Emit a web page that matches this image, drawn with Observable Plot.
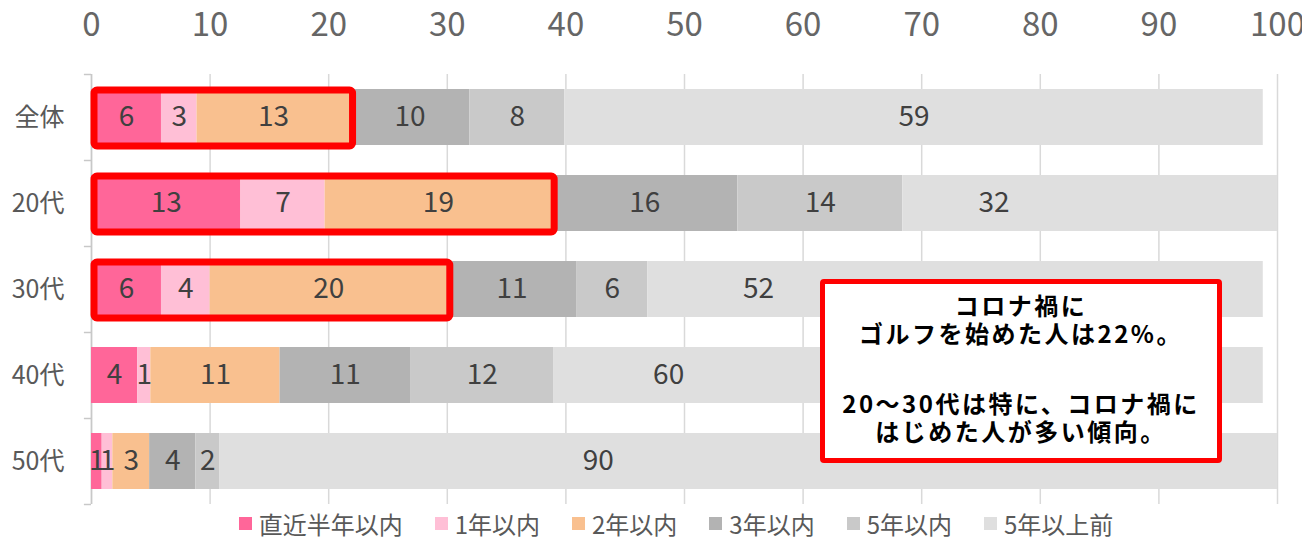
<!DOCTYPE html>
<html>
<head>
<meta charset="utf-8">
<script src="https://cdn.jsdelivr.net/npm/d3@7"></script>
<script src="https://cdn.jsdelivr.net/npm/@observablehq/plot@0.6"></script>
<style>
  html, body { margin: 0; padding: 0; background: #fff; }
  #wrap { position: relative; width: 1302px; height: 537px; overflow: hidden;
          font-family: "Liberation Sans Narrow", "Noto Sans CJK JP", sans-serif; }
  #legend { position: absolute; left: 91px; top: 510px; width: 1170px; height: 27px;
            display: flex; justify-content: center; align-items: center; gap: 32px;
            font-family: "Liberation Sans Narrow", "Noto Sans CJK JP", sans-serif;
            font-size: 24px; color: #595959; line-height: 27px; }
  #legend .item { display: flex; align-items: center; white-space: nowrap; }
  #legend .sw { width: 13px; height: 13px; margin-right: 7px; }
  #note { position: absolute; left: 820px; top: 279px; width: 402px; height: 184px;
          box-sizing: border-box; border: 5px solid #ff0000; border-radius: 4px; background: #fff;
          font-family: "Noto Sans CJK JP", sans-serif; font-weight: 700; font-size: 24px;
          letter-spacing: 2.5px;
          color: #000; text-align: center; line-height: 28px; padding-top: 7px; }
  #note p { margin: 0; }
  #note p + p { margin-top: 42px; }
</style>
</head>
<body>
<div id="wrap"></div>
<script>
// ---- data ----
const categories = ["全体", "20代", "30代", "40代", "50代"];
const seriesNames = ["直近半年以内", "1年以内", "2年以内", "3年以内", "5年以内", "5年以上前"];
const seriesColors = ["#ff6699", "#ffbfd6", "#f9c08f", "#b3b3b3", "#c9c9c9", "#dfdfdf"];
// values per series, in category order (全体, 20代, 30代, 40代, 50代)
const recentHalfYear = [5.9, 12.6, 5.9, 3.9, 0.9];
const withinOneYear  = [3.0, 7.1, 4.1, 1.1, 0.9];
const withinTwoYears = [12.9, 19.1, 20.0, 10.9, 3.1];
const withinThreeYears = [10.1, 15.7, 10.9, 11.0, 3.9];
const withinFiveYears  = [8.0, 13.9, 6.0, 12.1, 2.0];
const overFiveYears    = [58.9, 31.6, 51.9, 59.8, 89.5];
const highlighted = ["全体", "20代", "30代"];
const xTicks = [0, 10, 20, 30, 40, 50, 60, 70, 80, 90, 100];
const noteLines1 = ["コロナ禍に", "ゴルフを始めた人は22%。"];
const noteLines2 = ["20～30代は特に、コロナ禍に", "はじめた人が多い傾向。"];

// style: the last series' labels were moved left (px) so the note box does not hide them
const lastLabelShiftPx = [0, -96, -197, -240, -152];

const seriesValues = [recentHalfYear, withinOneYear, withinTwoYears, withinThreeYears, withinFiveYears, overFiveYears];

const rows = [];
const lastLabels = [];
categories.forEach((cat, i) => {
  let acc = 0;
  seriesNames.forEach((s, j) => {
    const v = seriesValues[j][i];
    rows.push({cat, series: s, value: v, label: String(Math.round(v))});
    if (j === seriesNames.length - 1) {
      lastLabels.push({cat, mid: acc + v / 2, shift: lastLabelShiftPx[i], label: String(Math.round(v))});
    }
    acc += v;
  });
});
const innerRows = rows.filter(r => r.series !== seriesNames[seriesNames.length - 1]);
const highlightRows = highlighted.map(cat => {
  const i = categories.indexOf(cat);
  return {cat, total: recentHalfYear[i] + withinOneYear[i] + withinTwoYears[i]};
});

// ---- layout ----
const W = 1302, H = 510, mTop = 74, mBottom = 6, mLeft = 91, mRight = 25;
const step = (H - mTop - mBottom) / categories.length;
const pxPerUnit = (W - mLeft - mRight) / 100;
const font = "'Liberation Sans Narrow', 'Noto Sans CJK JP', sans-serif";

const chart = Plot.plot({
  width: W, height: H,
  marginTop: mTop, marginBottom: mBottom, marginLeft: mLeft, marginRight: mRight,
  style: {fontFamily: font, background: "#fff", overflow: "visible"},
  x: {domain: [0, 100], axis: null},
  y: {domain: categories, paddingInner: 0.35, paddingOuter: 0.175, axis: null, label: null},
  color: {domain: seriesNames, range: seriesColors},
  marks: [
    Plot.ruleX(xTicks, {stroke: "#d9d9d9", strokeWidth: 1.5}),
    Plot.ruleX([0], {stroke: "#c8c8c8", strokeWidth: 1.5}),
    Plot.ruleY(categories, {y: d => d, x1: -0.6, x2: 0, dy: -step / 2, stroke: "#c8c8c8", strokeWidth: 1.5}),
    Plot.ruleY(categories.slice(-1), {y: d => d, x1: -0.6, x2: 0, dy: step / 2, stroke: "#c8c8c8", strokeWidth: 1.5}),
    Plot.barX(rows, {x: "value", y: "cat", fill: "series", clip: true}),
    Plot.text(innerRows, Plot.stackX({x: "value", y: "cat", z: "series", text: "label",
      fill: "#404040", fontSize: 28, fontFamily: font})),
    Plot.text(lastLabels, {x: d => d.mid + d.shift / pxPerUnit, y: "cat", text: "label",
      fill: "#404040", fontSize: 28, fontFamily: font}),
    Plot.barX(highlightRows, {x: "total", y: "cat", fill: "none", stroke: "#ff0000", strokeWidth: 7,
      rx: 3, insetLeft: 3, insetRight: -3, insetTop: 1, insetBottom: -1}),
    Plot.axisX(xTicks, {anchor: "top", tickSize: 0, tickPadding: 49, lineAnchor: "middle",
      fontSize: 33, color: "#666666", fontFamily: font, label: null}),
    Plot.axisY({tickSize: 0, tickPadding: 27, fontSize: 25, color: "#595959", fontFamily: font, label: null})
  ]
});

const wrap = document.getElementById("wrap");
wrap.appendChild(chart);

// legend
const legend = document.createElement("div");
legend.id = "legend";
seriesNames.forEach((s, j) => {
  const item = document.createElement("div");
  item.className = "item";
  const sw = document.createElement("span");
  sw.className = "sw";
  sw.style.background = seriesColors[j];
  const t = document.createElement("span");
  t.textContent = s;
  item.appendChild(sw);
  item.appendChild(t);
  legend.appendChild(item);
});
wrap.appendChild(legend);

// annotation
const note = document.createElement("div");
note.id = "note";
[noteLines1, noteLines2].forEach(lines => {
  const p = document.createElement("p");
  lines.forEach((l, k) => {
    if (k) p.appendChild(document.createElement("br"));
    p.appendChild(document.createTextNode(l));
  });
  note.appendChild(p);
});
wrap.appendChild(note);
</script>
</body>
</html>
